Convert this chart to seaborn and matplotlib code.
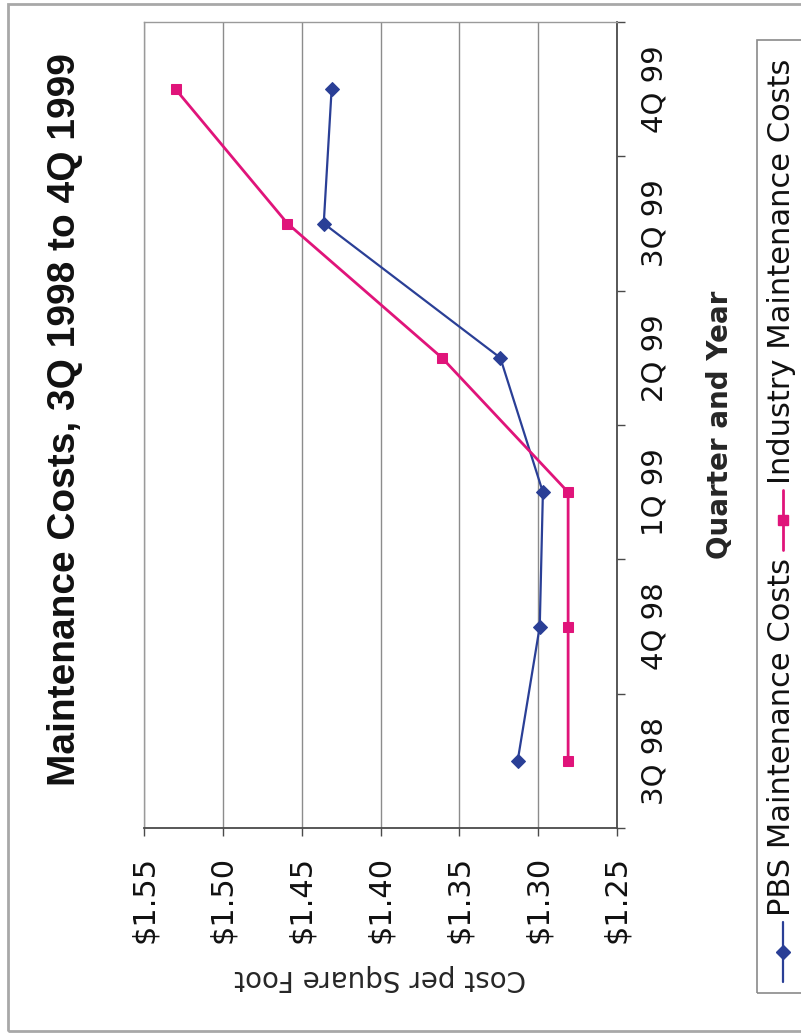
import numpy as np
import pandas as pd
import matplotlib
matplotlib.use("Agg")
import matplotlib.pyplot as plt
from matplotlib.patches import Rectangle
from matplotlib.lines import Line2D
import seaborn as sns

# Quarterly maintenance cost per square foot
quarters = ["3Q 98", "4Q 98", "1Q 99", "2Q 99", "3Q 99", "4Q 99"]
pbs_costs = [1.313, 1.299, 1.297, 1.324, 1.436, 1.431]
industry_costs = [1.281, 1.281, 1.281, 1.361, 1.459, 1.530]

cost_ticks = [1.25, 1.30, 1.35, 1.40, 1.45, 1.50, 1.55]
cost_tick_labels = ["$1.25", "$1.30", "$1.35", "$1.40", "$1.45", "$1.50", "$1.55"]

title_text = "Maintenance Costs, 3Q 1998 to 4Q 1999"
value_axis_label = "Cost per Square Foot"
category_axis_label = "Quarter and Year"
series_names = ["PBS Maintenance Costs", "Industry Maintenance Costs"]

BLUE = "#2a3f96"
MAGENTA = "#e0147a"
DARK = "#4a4a4a"
GRID = "#8c8c8c"
FRAME = "#a8a8a8"

sns.set_theme(style="white")
plt.rcParams["font.family"] = ["DejaVu Sans"]
plt.rcParams["text.color"] = "#111111"

W, H = 801, 1034
fig = plt.figure(figsize=(W / 100, H / 100), dpi=100)
fig.patch.set_facecolor("white")


def fx(px):
    return px / W


def fy(py):
    return 1 - py / H


# Chart is laid out sideways: cost runs right-to-left, quarters bottom-to-top
ax = fig.add_axes([fx(144), fy(828), fx(617) - fx(144), fy(22) - fy(828)])

pos = np.arange(len(quarters))
df = pd.DataFrame({"quarter": quarters, "pos": pos,
                   "pbs": pbs_costs, "industry": industry_costs})

sns.lineplot(data=df, x="pbs", y="pos", orient="y", estimator=None,
             color=BLUE, marker="D", markersize=7, linewidth=1.6,
             markeredgecolor=BLUE, ax=ax, legend=False)
sns.lineplot(data=df, x="industry", y="pos", orient="y", estimator=None,
             color=MAGENTA, marker="s", markersize=7, linewidth=2.0,
             markeredgecolor=MAGENTA, ax=ax, legend=False)

ax.set_xlim(1.55, 1.25)
ax.set_ylim(-0.5, len(quarters) - 0.5)

# Value axis (bottom)
ax.set_xticks(cost_ticks)
ax.set_xticklabels(cost_tick_labels, rotation=90)
ax.tick_params(axis="x", bottom=True, direction="out", length=6, width=1,
               color=DARK, pad=14, labelsize=22, labelcolor="#111111")
ax.grid(axis="x", color=GRID, linewidth=1)
ax.grid(axis="y", visible=False)

# Category axis (right)
ax.yaxis.tick_right()
ax.set_yticks(np.arange(-0.5, len(quarters), 1.0))
ax.set_yticklabels([])
ax.set_yticks(pos, minor=True)
ax.set_yticklabels(quarters, minor=True, rotation=90, va="center", ha="left")
ax.tick_params(axis="y", which="major", right=True, left=False, direction="out",
               length=6, width=1, color=DARK, labelright=False, labelleft=False)
ax.tick_params(axis="y", which="minor", right=True, left=False, length=0,
               pad=17, labelsize=21, labelright=True, labelleft=False,
               labelcolor="#111111")

for side in ("top", "left"):
    ax.spines[side].set_color("#9a9a9a")
    ax.spines[side].set_linewidth(1)
for side in ("bottom", "right"):
    ax.spines[side].set_color(DARK)
    ax.spines[side].set_linewidth(1.3)

ax.set_xlabel(value_axis_label, fontsize=20, rotation=180)
ax.xaxis.label.set_va("center")
ax.xaxis.set_label_coords(0.5, (828 - 978) / (828 - 22))

ax.set_ylabel(category_axis_label, fontsize=20, fontweight="bold", rotation=90)
ax.yaxis.set_label_position("right")
ax.yaxis.label.set_va("center")
ax.yaxis.set_label_coords((720 - 144) / (617 - 144), 0.5)

fig.text(fx(65), fy(420), title_text, rotation=90, ha="center", va="center",
         fontsize=28, fontweight="bold", family=["Liberation Sans", "DejaVu Sans"])

# Outer frame
fig.add_artist(Rectangle((fx(8), fy(1031)), fx(812) - fx(8), fy(4) - fy(1031),
                         transform=fig.transFigure, fill=False,
                         edgecolor=FRAME, linewidth=2))

# Sideways legend box
fig.add_artist(Rectangle((fx(757), fy(993)), fx(812) - fx(757), fy(40) - fy(993),
                         transform=fig.transFigure, fill=False,
                         edgecolor="#8a8a8a", linewidth=1.2))

renderer = fig.canvas.get_renderer()
cursor = 982  # pixel row where the next legend entry starts (going upward)
key_x = 783
for name, color, marker, lw in zip(series_names, [BLUE, MAGENTA], ["D", "s"], [1.6, 2.0]):
    fig.add_artist(Line2D([fx(key_x), fx(key_x)], [fy(cursor), fy(cursor - 60)],
                          transform=fig.transFigure, color=color, linewidth=lw))
    fig.add_artist(Line2D([fx(key_x)], [fy(cursor - 30)], transform=fig.transFigure,
                          color=color, marker=marker, markersize=7,
                          markeredgecolor=color, linestyle="none"))
    cursor -= 66
    t = fig.text(fx(781), fy(cursor), name, rotation=90, ha="center", va="bottom",
                 fontsize=22)
    bb = t.get_window_extent(renderer=renderer)
    cursor -= bb.height + 8

fig.savefig("out.png", dpi=100, facecolor="white")
